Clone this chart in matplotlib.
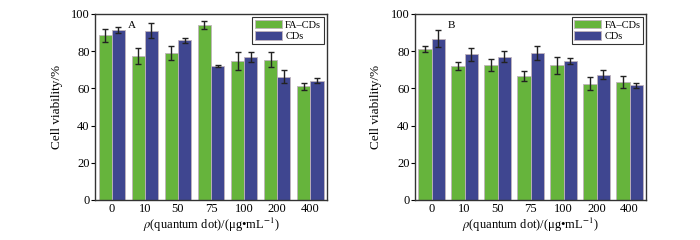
import matplotlib
matplotlib.use("Agg")
import matplotlib.pyplot as plt
import numpy as np

plt.rcParams["font.family"] = ["Liberation Serif", "DejaVu Serif"]
plt.rcParams["mathtext.fontset"] = "stix"

# data
concentrations = ["0", "10", "50", "75", "100", "200", "400"]

faA = [88.4, 77.4, 78.9, 94.1, 74.7, 75.4, 61.0]
faA_err = [3.6, 4.5, 3.8, 2.2, 4.7, 3.9, 1.8]
cdA = [91.2, 90.9, 85.8, 72.0, 76.7, 66.3, 64.2]
cdA_err = [1.6, 4.1, 1.2, 0.3, 2.6, 3.4, 1.3]

faB = [81.0, 71.9, 72.6, 66.7, 72.4, 62.5, 63.4]
faB_err = [1.5, 2.0, 3.1, 2.5, 4.7, 3.5, 3.0]
cdB = [86.7, 78.3, 77.1, 79.2, 74.7, 67.4, 61.6]
cdB_err = [4.4, 3.4, 2.9, 3.8, 1.4, 2.2, 1.4]

green = "#66b43c"
blue = "#3f4690"

fig = plt.figure(figsize=(7, 2.4), dpi=100)
axA = fig.add_axes([0.136, 0.167, 0.331, 0.775])
axB = fig.add_axes([0.593, 0.167, 0.330, 0.775])

def drawPanel(ax, fa, faErr, cd, cdErr, letter):
    x = np.arange(len(concentrations))
    w = 0.4
    ax.bar(x - w / 2, fa, w, yerr=faErr, color=green, edgecolor="#c0b4bc", linewidth=0.6,
           error_kw=dict(ecolor="#222222", elinewidth=1.0, capsize=2, capthick=1.0), label="FA\u2013CDs")
    ax.bar(x + w / 2, cd, w, yerr=cdErr, color=blue, edgecolor="#c0b4bc", linewidth=0.6,
           error_kw=dict(ecolor="#222222", elinewidth=1.0, capsize=2, capthick=1.0), label="CDs")
    ax.set_xlim(-0.5, len(concentrations) - 0.5)
    ax.set_ylim(0, 100)
    ax.set_yticks([0, 20, 40, 60, 80, 100])
    ax.set_xticks(x)
    ax.set_xticklabels(concentrations)
    ax.tick_params(axis="x", length=0, labelsize=9, pad=2)
    ax.tick_params(axis="y", direction="out", length=3, width=0.8, labelsize=9, pad=1)
    for s in ax.spines.values():
        s.set_linewidth(1.0)
        s.set_color("#333333")
    ax.set_ylabel("Cell viability/%", fontsize=9.5, labelpad=6)
    ax.set_xlabel("$\\rho$(quantum dot)/(\u03bcg\u2022mL$^{-1}$)", fontsize=9, labelpad=1)
    ax.text(0.6, 94, letter, fontsize=8, ha="center", va="center")
    leg = ax.legend(loc="upper right", fontsize=7.5, frameon=True, fancybox=False,
                    borderaxespad=0.3, handlelength=2.6, handleheight=0.9,
                    handletextpad=0.3, borderpad=0.25, labelspacing=0.15)
    leg.get_frame().set_edgecolor("black")
    leg.get_frame().set_linewidth(0.8)

drawPanel(axA, faA, faA_err, cdA, cdA_err, "A")
drawPanel(axB, faB, faB_err, cdB, cdB_err, "B")

fig.savefig("out.png", dpi=100)
